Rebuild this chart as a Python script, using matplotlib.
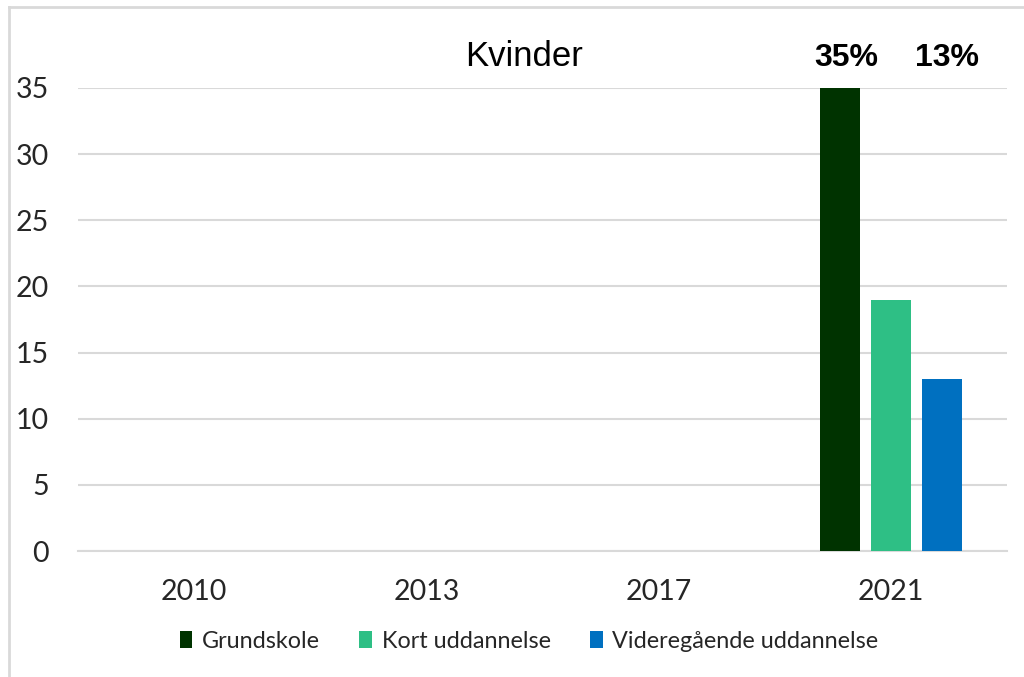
import matplotlib
matplotlib.use("Agg")
import matplotlib.pyplot as plt
from matplotlib.lines import Line2D
import numpy as np

years = ["2010", "2013", "2017", "2021"]
series_names = ["Grundskole", "Kort uddannelse", "Videregående uddannelse"]
grundskole = [0, 0, 0, 35]
kort = [0, 0, 0, 19]
videregaaende = [0, 0, 0, 13]
colors = ["#003300", "#2EBF85", "#0070C0"]
yticks = [0, 5, 10, 15, 20, 25, 30, 35]
title = "Kvinder"
labels_top = ["35%", "13%"]

plt.rcParams['font.family'] = ['Lato', 'DejaVu Sans']

fig = plt.figure(figsize=(10.24, 6.77), dpi=100)
ax = fig.add_axes([78/1024, 126/677, 929/1024, 463/677])

x = np.arange(len(years))
width = 0.172
offsets = [-0.22, 0.0, 0.22]
all_series = [grundskole, kort, videregaaende]
for vals, off, col, name in zip(all_series, offsets, colors, series_names):
    ax.bar(x + off, vals, width=width, color=col, label=name, zorder=3)

ax.set_xlim(-0.5, len(years) - 0.5)
ax.set_ylim(0, 35)
ax.set_yticks(yticks)
ax.set_xticks(x)
ax.set_xticklabels(years)
ax.yaxis.grid(True, color="#D9D9D9", linewidth=1.5, zorder=0)
for s in ["top", "right", "left"]:
    ax.spines[s].set_visible(False)
ax.spines["bottom"].set_color("#D9D9D9")
ax.spines["bottom"].set_linewidth(1.5)
ax.tick_params(axis="both", length=0, labelsize=20.5, colors="#262626")
ax.tick_params(axis="y", pad=21)
ax.tick_params(axis="x", pad=20)

# top labels above bars 1 and 3 of 2021
ax.text(x[-1] + offsets[0] + 0.03, 37.3, labels_top[0], ha="center", va="center",
        fontsize=23, fontweight="bold", family="Liberation Sans", clip_on=False)
ax.text(x[-1] + offsets[2] + 0.02, 37.3, labels_top[1], ha="center", va="center",
        fontsize=23, fontweight="bold", family="Liberation Sans", clip_on=False)

fig.text(524/1024, 1 - 57/677, title, ha="center", va="center", fontsize=25,
         family="Liberation Sans", color="#000000")

leg = ax.legend(ncol=3, loc="center", bbox_to_anchor=(529/1024, 1 - 641/677),
                bbox_transform=fig.transFigure, frameon=False, fontsize=16.8,
                handlelength=0.55, handleheight=0.75, handletextpad=0.4,
                columnspacing=1.7)
for t in leg.get_texts():
    t.set_color("#262626")

# outer frame (left and top)
fig.add_artist(Line2D([9/1024, 9/1024], [0, 1 - 7/677], transform=fig.transFigure,
                      color="#D9D9D9", linewidth=2))
fig.add_artist(Line2D([9/1024, 1], [1 - 7/677, 1 - 7/677], transform=fig.transFigure,
                      color="#D9D9D9", linewidth=2))

fig.savefig("out.png", dpi=100)
